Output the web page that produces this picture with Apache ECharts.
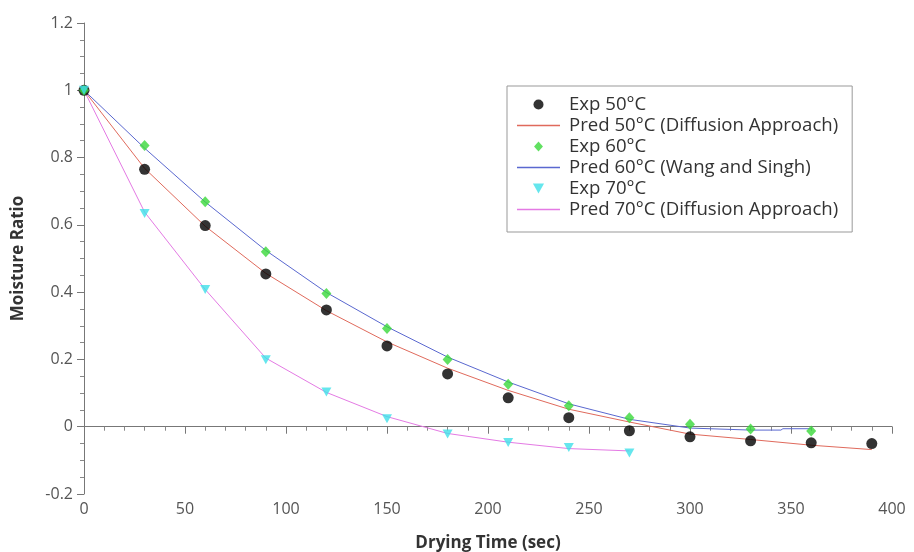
<!DOCTYPE html>
<html>
<head>
<meta charset="utf-8">
<script src="https://cdn.jsdelivr.net/npm/echarts@6/dist/echarts.min.js"></script>
<style>
  html, body { margin: 0; padding: 0; background: #fff; }
  #chart { width: 914px; height: 552px; }
</style>
</head>
<body>
<div id="chart"></div>
<script>
// Drying times (s) for the measured points
const expTime50 = [0, 30, 60, 90, 120, 150, 180, 210, 240, 270, 300, 330, 360, 390];
const expTime60 = [0, 30, 60, 90, 120, 150, 180, 210, 240, 270, 300, 330, 360];
const expTime70 = [0, 30, 60, 90, 120, 150, 180, 210, 240, 270];

// Measured moisture ratio
const exp50 = [1.0, 0.765, 0.598, 0.454, 0.347, 0.240, 0.157, 0.086, 0.027, -0.012, -0.030, -0.042, -0.048, -0.050];
const exp60 = [1.0, 0.836, 0.669, 0.520, 0.396, 0.292, 0.200, 0.126, 0.062, 0.027, 0.007, -0.007, -0.013];
const exp70 = [1.0, 0.634, 0.408, 0.199, 0.103, 0.024, -0.022, -0.047, -0.062, -0.078];

// Model predictions
const predTime50 = [0, 30, 60, 90, 120, 150, 180, 210, 240, 270, 300, 330, 360, 390];
const pred50 = [1.0, 0.768, 0.596, 0.456, 0.345, 0.252, 0.174, 0.108, 0.052, 0.014, -0.022, -0.038, -0.055, -0.068];
const predTime60 = [0, 30, 60, 90, 120, 150, 180, 210, 240, 270, 300, 330, 345, 346, 360];
const pred60 = [1.0, 0.828, 0.668, 0.524, 0.399, 0.297, 0.207, 0.133, 0.068, 0.022, -0.004, -0.010, -0.010, -0.006, -0.006];
const predTime70 = [0, 30, 60, 90, 120, 150, 180, 210, 240, 270];
const pred70 = [1.0, 0.638, 0.408, 0.204, 0.102, 0.030, -0.020, -0.046, -0.065, -0.072];

const xTicks = { min: 0, max: 400, step: 50 };
const yTicks = { min: -0.2, max: 1.2, step: 0.2 };

const names = [
  'Exp 50°C',
  'Pred 50°C (Diffusion Approach)',
  'Exp 60°C',
  'Pred 60°C (Wang and Singh)',
  'Exp 70°C',
  'Pred 70°C (Diffusion Approach)'
];

const colors = ['#000000', '#e06a5c', '#3ad83a', '#5a68d0', '#3ee0e8', '#e47ae4'];

// Legend glyphs: a thin stroke for model curves, the marker shape for measurements
const lineIcon = 'path://M0,0L43,0L43,1.5L0,1.5Z';
const legendIcons = [
  'circle',
  lineIcon,
  'path://M4,0L8,4.5L4,9L0,4.5Z',
  lineIcon,
  'path://M0,0L10,0L5,9Z',
  lineIcon
];

const zip = (xs, ys) => xs.map((x, i) => [x, ys[i]]);

const axisFont = { fontFamily: 'Open Sans', fontSize: 16, color: '#555' };
const nameFont = { fontFamily: 'Open Sans', fontSize: 17, fontWeight: 'bold', color: '#333' };

const chart = echarts.init(document.getElementById('chart'), null, { renderer: 'canvas' });

chart.setOption({
  backgroundColor: '#fff',
  animation: false,
  grid: { left: 84, right: 22, top: 23, bottom: 58, outerBoundsMode: 'none', containLabel: false },
  legend: {
    orient: 'vertical',
    left: 507,
    top: 86,
    data: names.map((n, i) => ({
      name: n,
      icon: legendIcons[i],
      itemStyle: { color: colors[i], borderWidth: 0 }
    })),
    symbolKeepAspect: true,
    itemWidth: 43,
    itemHeight: 10,
    itemGap: 2,
    padding: [9, 14, 13, 10],
    borderColor: '#999',
    borderWidth: 1,
    backgroundColor: '#fff',
    textStyle: { fontFamily: 'Open Sans', fontSize: 18.6, lineHeight: 19, color: '#333', padding: [0, 0, 0, 4] }
  },
  xAxis: {
    type: 'value',
    min: xTicks.min,
    max: xTicks.max,
    interval: xTicks.step,
    name: 'Drying Time (sec)',
    nameLocation: 'middle',
    nameGap: 41,
    nameTextStyle: nameFont,
    axisLine: { lineStyle: { color: '#777', width: 1 } },
    axisTick: { show: true, inside: false, length: 7, lineStyle: { color: '#777' } },
    minorTick: { show: true, splitNumber: 5, length: 4, lineStyle: { color: '#888' } },
    axisLabel: Object.assign({ margin: 7 }, axisFont),
    splitLine: { show: false }
  },
  yAxis: {
    type: 'value',
    min: yTicks.min,
    max: yTicks.max,
    interval: yTicks.step,
    name: 'Moisture Ratio',
    nameLocation: 'middle',
    nameGap: 57,
    nameTextStyle: nameFont,
    axisLine: { show: true, lineStyle: { color: '#777', width: 1 } },
    axisTick: { show: true, inside: false, length: 7, lineStyle: { color: '#777' } },
    minorTick: { show: true, splitNumber: 4, length: 4, lineStyle: { color: '#888' } },
    axisLabel: Object.assign({ margin: 11 }, axisFont),
    splitLine: { show: false }
  },
  series: [
    {
      name: names[0], type: 'scatter', z: 5,
      symbol: 'circle', symbolSize: 11,
      itemStyle: { color: colors[0] },
      data: zip(expTime50, exp50)
    },
    {
      name: names[1], type: 'line', z: 3,
      symbol: 'none', showSymbol: false,
      lineStyle: { color: colors[1], width: 1 },
      itemStyle: { color: colors[1] },
      data: zip(predTime50, pred50)
    },
    {
      name: names[2], type: 'scatter', z: 5,
      symbol: 'diamond', symbolSize: [10, 11],
      itemStyle: { color: colors[2] },
      data: zip(expTime60, exp60)
    },
    {
      name: names[3], type: 'line', z: 3,
      symbol: 'none', showSymbol: false,
      lineStyle: { color: colors[3], width: 1 },
      itemStyle: { color: colors[3] },
      data: zip(predTime60, pred60)
    },
    {
      name: names[4], type: 'scatter', z: 5,
      symbol: 'triangle', symbolRotate: 180, symbolSize: [10, 9],
      itemStyle: { color: colors[4] },
      data: zip(expTime70, exp70)
    },
    {
      name: names[5], type: 'line', z: 3,
      symbol: 'none', showSymbol: false,
      lineStyle: { color: colors[5], width: 1 },
      itemStyle: { color: colors[5] },
      data: zip(predTime70, pred70)
    }
  ]
});
</script>
</body>
</html>
